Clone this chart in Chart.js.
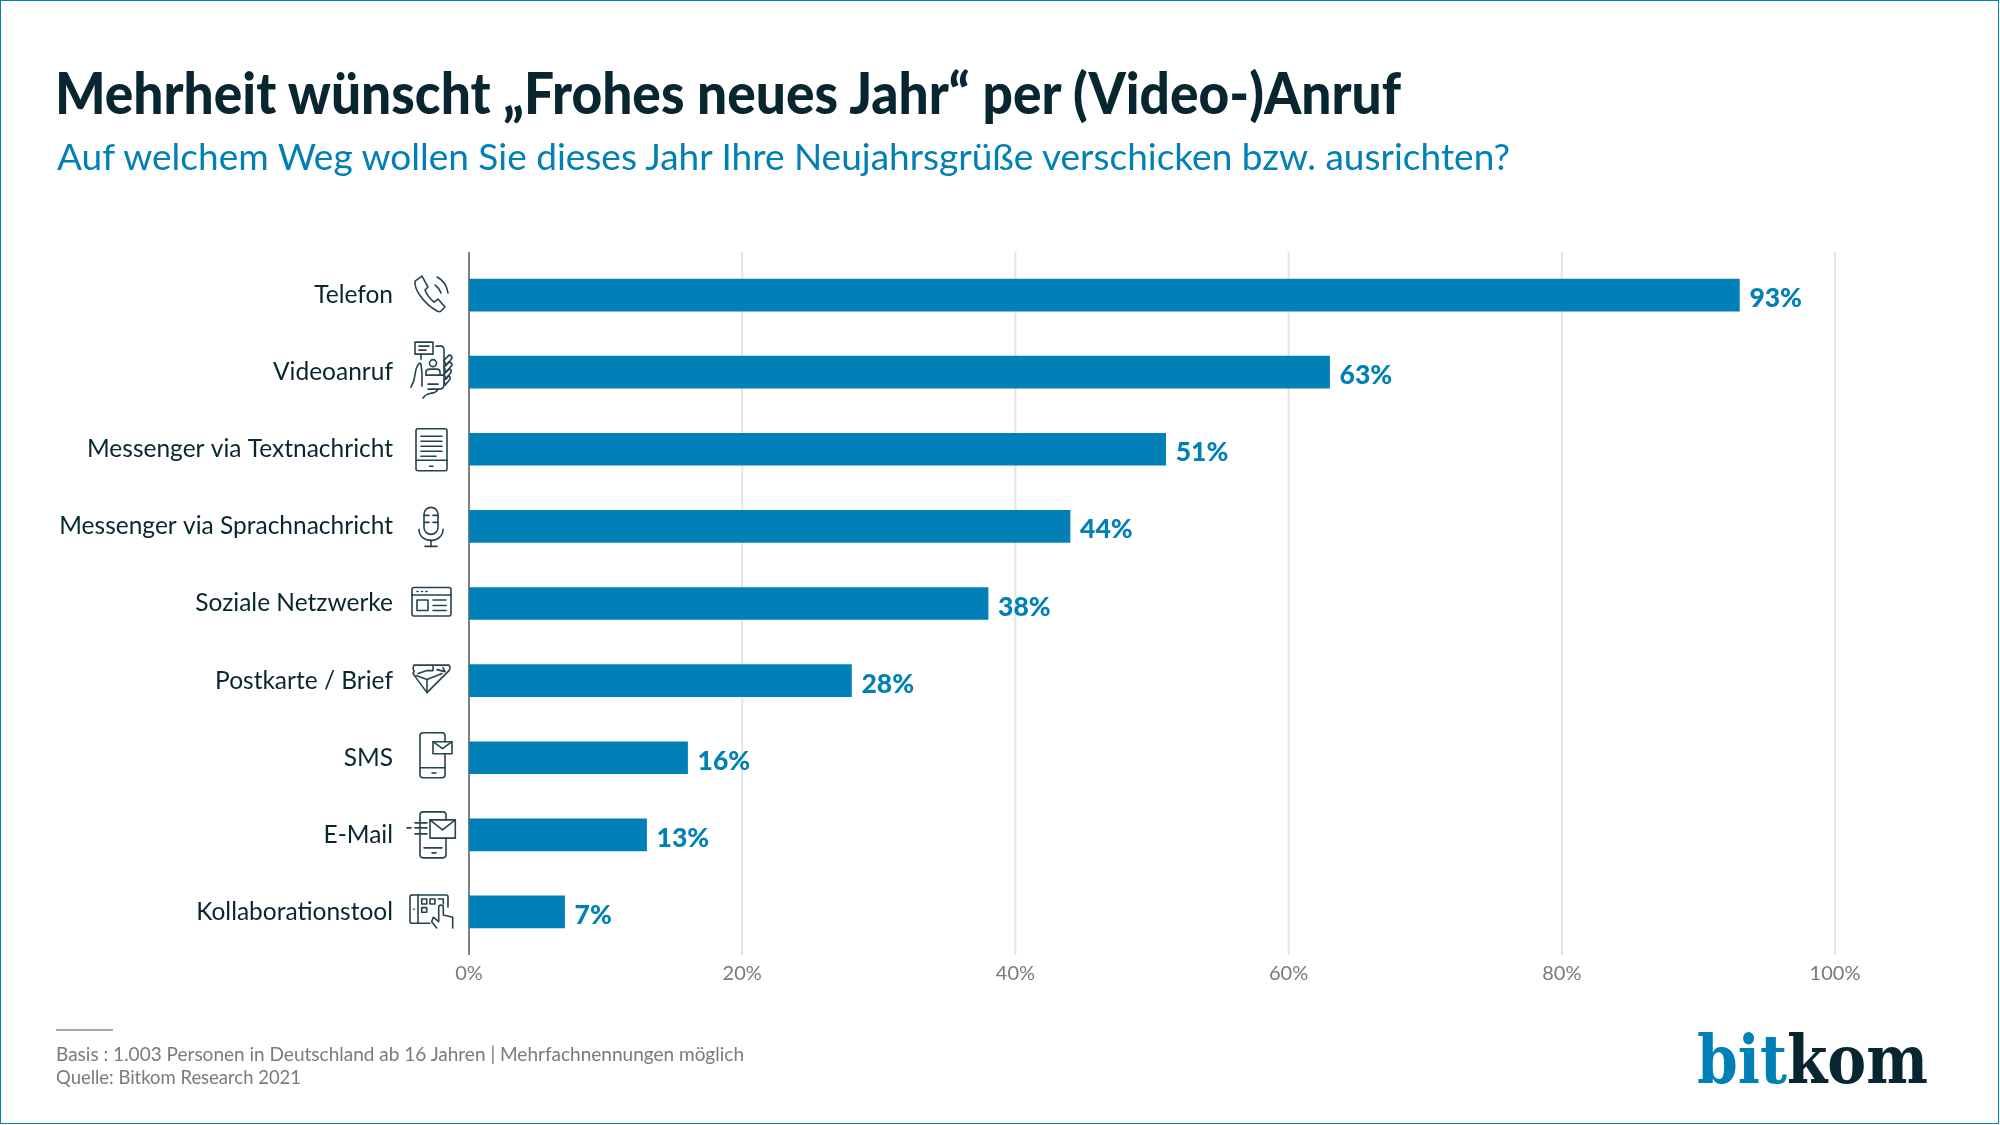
<!DOCTYPE html>
<html lang="de">
<head>
<meta charset="utf-8">
<title>Mehrheit wünscht „Frohes neues Jahr“ per (Video-)Anruf</title>
<script src="https://cdn.jsdelivr.net/npm/chart.js@4"></script>
<style>
html, body { margin: 0; padding: 0; background: #fff; }
#page { position: relative; width: 2000px; height: 1125px; overflow: hidden; font-family: Lato, sans-serif; }
#frame { position: absolute; left: 0; top: 0; width: 1997px; height: 1122px; border: 1.5px solid #0080b7; }
#myChart { position: absolute; left: 0; top: 0; }
.txt { position: absolute; white-space: nowrap; line-height: 1; transform-origin: left top; }
#title { left: 55px; top: 63px; font-size: 58px; font-weight: 900; color: #07262f; }
#subtitle { left: 57px; top: 137px; font-size: 37px; color: #0080b7; }
#rule { position: absolute; left: 56px; top: 1029px; width: 57px; height: 2px; background: #a8a8a8; }
#basis { left: 56px; top: 1045px; font-size: 18.5px; color: #7a7a7a; }
#source { left: 56px; top: 1068px; font-size: 18.5px; color: #7a7a7a; }
#logo { left: 1697px; top: 1025px; font-family: "DejaVu Serif"; font-weight: 700; font-size: 68px; color: #07262f; }
#logo span { color: #0080b7; }
</style>
</head>
<body>
<div id="page">
    <canvas id="myChart" width="2000" height="1125"></canvas>
    <div id="frame"></div>
    <div id="title" class="txt" data-w="1346">Mehrheit wünscht „Frohes neues Jahr“ per (Video-)Anruf</div>
    <div id="subtitle" class="txt" data-w="1453">Auf welchem Weg wollen Sie dieses Jahr Ihre Neujahrsgrüße verschicken bzw. ausrichten?</div>
    <div id="rule"></div>
    <div id="basis" class="txt" data-w="688">Basis : 1.003 Personen in Deutschland ab 16 Jahren | Mehrfachnennungen möglich</div>
    <div id="source" class="txt" data-w="245">Quelle: Bitkom Research 2021</div>
    <div id="logo" class="txt" data-w="231"><span>bit</span>kom</div>
</div>
<script>
const categories = ['Telefon', 'Videoanruf', 'Messenger via Textnachricht', 'Messenger via Sprachnachricht',
    'Soziale Netzwerke', 'Postkarte / Brief', 'SMS', 'E-Mail', 'Kollaborationstool']
const values = [93, 63, 51, 44, 38, 28, 16, 13, 7]
const xTicks = [0, 20, 40, 60, 80, 100]

const BLUE = '#0080b7'
const ICON = '#26434f'

// line icons, in pixels around the icon centre
const icons = [
    ['M-9,-19 L-16,-14 C-17,-6 -8,8 6,16 C8,17 9,17 10,16 L14,12 L7,4 L3,7 C-1,4 -4,0 -6,-5 L-3,-8 Z',
     'M4,-10 C7,-8 9,-5 10,-2', 'M6,-18 C12,-15 16,-9 17,-2'],
    ['M-16,-30 H2 V-18 H-16 Z', 'M-10,-18 V-13', 'M-12,-26 H-2', 'M-12,-22 H-5',
     'M5,-26 H10 Q13,-26 13,-22 V12 Q13,17 8,17 H-3',
     'M13,-12 L18,-17 Q21,-17 21,-14 L15,-7 Z', 'M13,-5 L18,-10 Q21,-10 21,-7 L15,0 Z',
     'M13,2 L18,-3 Q21,-3 20,0 L15,7 Z', 'M13,8 L17,4 Q20,4 19,7 L14,13 Z',
     'M-1.5,-9 A3.5,3.5 0 1 0 5.5,-9 A3.5,3.5 0 1 0 -1.5,-9', 'M-5,3 V0 Q-5,-3 -1,-3 H6 Q9,-3 9,0 V3', 'M-5,3 H12', 'M-3,12 H7',
     'M-20,15 L-17,8 L-15,-3 Q-12,-11 -10,-8 L-9,1 L-9,14', 'M-8,26 Q-6,22 0,21 Q5,21 7,17'],
    ['M-13,-20.5 H14 Q16,-20.5 16,-18.5 V19.5 Q16,21.5 14,21.5 H-13 Q-15,21.5 -15,19.5 V-18.5 Q-15,-20.5 -13,-20.5 Z',
     'M-15,11 H16', 'M-10,-13 H11', 'M-10,-8 H11', 'M-10,-3 H11', 'M-10,2 H11', 'M-10,7 H5', 'M-1.5,17 H2'],
    ['M-7,-12 A7,7 0 0 1 7,-12 V1 A7,7 0 0 1 -7,1 Z', 'M-7,-11 H-2', 'M-7,-4 H-2', 'M7,-11 H2', 'M7,-4 H2',
     'M-12,3 C-12,10 -6,14 0,14 C6,14 12,10 12,3', 'M0,14 V20', 'M-6,20 H6'],
    ['M-17,-16 H18 Q20,-16 20,-14 V10.5 Q20,12.5 18,12.5 H-17 Q-19,12.5 -19,10.5 V-14 Q-19,-16 -17,-16 Z',
     'M-19,-8.5 H20', 'M-14,-12 H-13', 'M-9.5,-12 H-8.5', 'M-5,-12 H-4',
     'M-14,-3.5 H-3 V7 H-14 Z', 'M2,-3.5 H15', 'M2,2 H15', 'M2,7 H15'],
    ['M-17,-15.5 H18 Q20,-13 18,-10 L-4,12 L-18,-7 Q-16,-9 -18,-12 Z',
     'M-13,-7 L-4,-10 L2,-10 L2,-14', 'M-4,-1 L-4,12', 'M-15,-5 L-4,-1 L11,-7', 'M6,-11 L14,-9 L12,-13'],
    ['M2,-25 H-8 Q-11,-25 -11,-22 V17 Q-11,20 -8,20 H11 Q14,20 14,17 V-4', 'M-11,10 H14', 'M1,15.3 H5',
     'M14,-16 V-22 Q14,-25 11,-25 H2', 'M2,-16 H21 V-4 H2 Z', 'M2,-16 L11.5,-9 L21,-16'],
    ['M-11,-15 V20 Q-11,23 -8,23 H12 Q15,23 15,20 V3.3', 'M-11,-15 V-20 Q-11,-23 -8,-23 H12 Q15,-23 15,-20 V-15',
     'M-7,13 H11', 'M1,18 H5', 'M-1,-15 H24.3 V3.3 H-1 Z', 'M-1,-15 L11.5,-5 L24.3,-15', 'M-16,-12 H-4',
     'M-24,-7 H-20', 'M-16,-7 H-4', 'M-16,-1 H-4'],
    ['M-19,-17 H15 Q17,-17 17,-15 V-5', 'M-1,11.3 H-19 Q-21,11.3 -21,9.3 V-15 Q-21,-17 -19,-17', 'M-13,-17 V11.3', 'M-17,-3 V-2.5',
     'M-9.3,-13 H-4.3 V-8 H-9.3 Z', 'M-1,-13 H4 V-8 H-1 Z', 'M7.3,-13 H12.3 V-8', 'M-9.3,-4.3 H-4.3 V0.3 H-9.3 Z',
     'M5.7,16 L0.7,9.7 L2.3,5.3 L7.7,9.7 V-4.7 A2.3,2.3 0 0 1 12.3,-4.7 V3 L21.7,5.3 V16']
]

// grid and axis run a little past the category bands, so they are drawn here from the scales
const axisLines = {
    id: 'axisLines',
    beforeDatasetsDraw(chart) {
        const { ctx, scales: { x }, chartArea: { top, bottom } } = chart
        ctx.save()
        xTicks.forEach(t => {
            ctx.beginPath()
            ctx.strokeStyle = t === 0 ? '#808080' : '#e4e4e4'
            ctx.lineWidth = 2
            ctx.moveTo(x.getPixelForValue(t), top - 4.5)
            ctx.lineTo(x.getPixelForValue(t), bottom + 4.5)
            ctx.stroke()
        })
        ctx.restore()
    }
}

const barLabels = {
    id: 'barLabels',
    afterDatasetsDraw(chart) {
        const { ctx } = chart
        ctx.save()
        ctx.fillStyle = BLUE
        ctx.font = '900 26.5px Lato'
        ctx.textAlign = 'left'
        ctx.textBaseline = 'alphabetic'
        chart.getDatasetMeta(0).data.forEach((bar, i) => {
            ctx.fillText(values[i] + '%', bar.x + 10, bar.y + 12)
        })
        ctx.restore()
    }
}

const iconDraw = {
    id: 'iconDraw',
    afterDraw(chart) {
        const { ctx, scales: { y } } = chart
        ctx.save()
        ctx.strokeStyle = ICON
        ctx.lineWidth = 1.6
        ctx.lineJoin = 'round'
        ctx.lineCap = 'round'
        icons.forEach((paths, i) => {
            ctx.setTransform(1, 0, 0, 1, 431, y.getPixelForTick(i))
            paths.forEach(p => ctx.stroke(new Path2D(p)))
        })
        ctx.restore()
    }
}

new Chart(document.getElementById('myChart'), {
    type: 'bar',
    data: {
        labels: categories,
        datasets: [{
            data: values,
            backgroundColor: BLUE,
            barThickness: 32
        }]
    },
    options: {
        indexAxis: 'y',
        responsive: false,
        animation: false,
        layout: { padding: { top: 256.5, right: 165 } },
        plugins: { legend: { display: false }, tooltip: { enabled: false } },
        scales: {
            x: {
                min: 0,
                max: 100,
                grid: { display: false },
                border: { display: false },
                afterBuildTicks: s => { s.ticks = xTicks.map(value => ({ value })) },
                ticks: {
                    padding: 3,
                    color: '#7a7a7a',
                    font: { family: 'Lato', size: 20 },
                    maxRotation: 0,
                    callback: v => v + '%'
                },
                afterFit: s => { s.height = 174.5 }
            },
            y: {
                grid: { display: false },
                border: { display: false },
                ticks: {
                    padding: 68,
                    color: '#07262f',
                    font: { family: 'Lato', size: 24.5 },
                    autoSkip: false
                },
                afterFit: s => { s.width = 469 }
            }
        }
    },
    plugins: [axisLines, barLabels, iconDraw]
})

// squeeze or stretch each text to the width it has in the picture
document.querySelectorAll('.txt').forEach(el => {
    const w = el.getBoundingClientRect().width
    el.style.transform = 'scaleX(' + (el.dataset.w / w) + ')'
})
</script>
</body>
</html>
